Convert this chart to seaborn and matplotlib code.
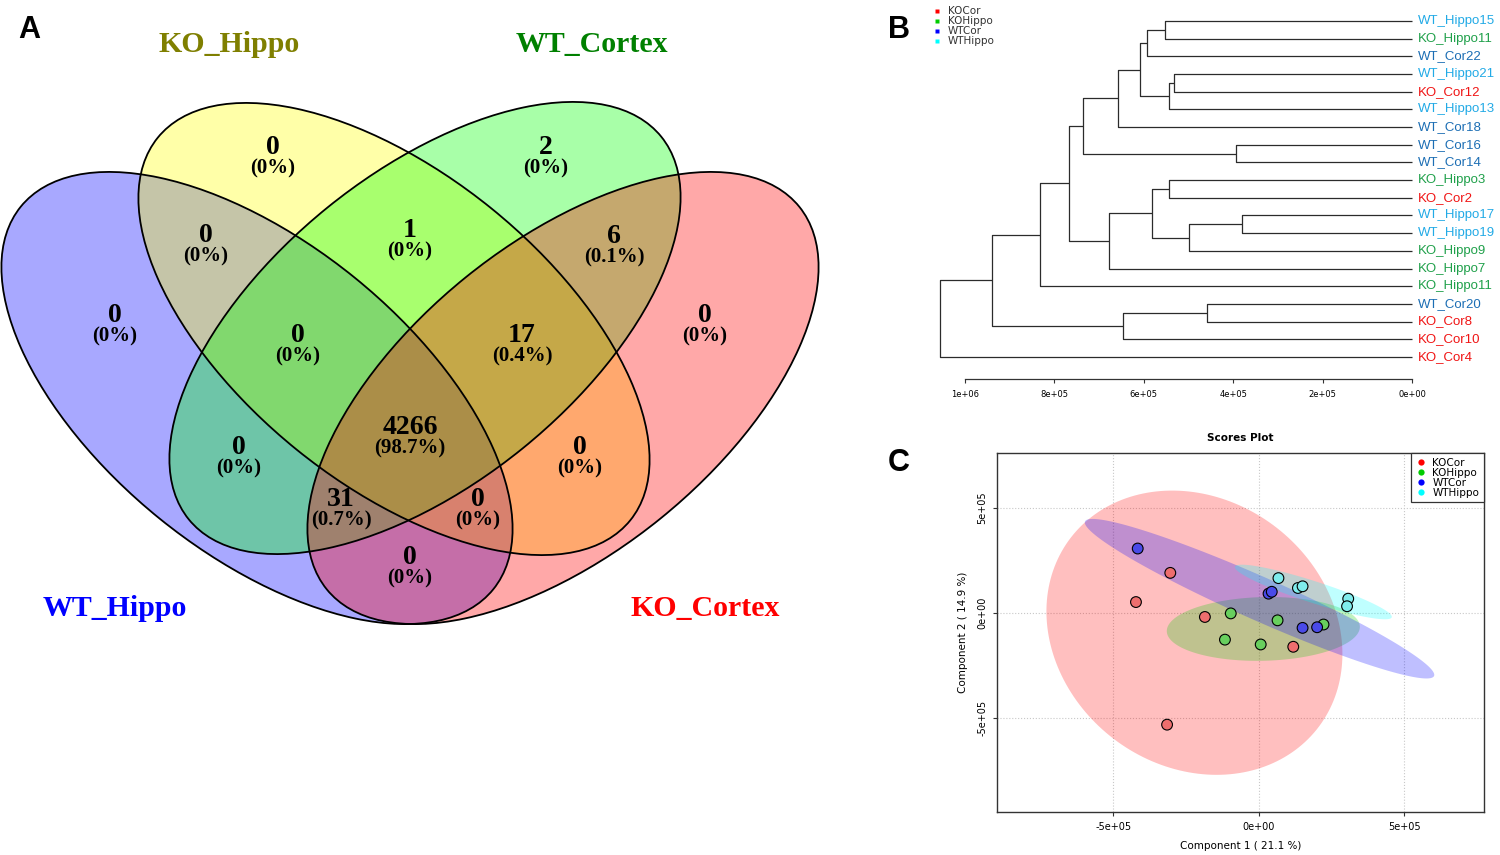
import numpy as np
import pandas as pd
import matplotlib
matplotlib.use("Agg")
import matplotlib.pyplot as plt
from matplotlib.patches import Ellipse
from matplotlib.lines import Line2D
import seaborn as sns

# ---------------- data ----------------
# Panel A : Venn diagram
venn_sets = ["WT_Hippo", "KO_Hippo", "WT_Cortex", "KO_Cortex"]
venn_set_label_colors = ["#0000FF", "#7F7F00", "#008000", "#FF0000"]
venn_fill_colors = ["#0000FF", "#FFFF00", "#00FF00", "#FF0000"]
venn_regions = ["B", "Y", "G", "R", "BY", "YG", "GR", "BYG", "YGR", "BYGR",
                "BG", "YR", "BGR", "BYR", "BR"]
venn_counts = [0, 0, 2, 0, 0, 1, 6, 0, 17, 4266, 0, 0, 31, 0, 0]

# Panel B : dendrogram
dendro_leaves = ["WT_Hippo15", "KO_Hippo11", "WT_Cor22", "WT_Hippo21", "KO_Cor12",
                 "WT_Hippo13", "WT_Cor18", "WT_Cor16", "WT_Cor14", "KO_Hippo3",
                 "KO_Cor2", "WT_Hippo17", "WT_Hippo19", "KO_Hippo9", "KO_Hippo7",
                 "KO_Hippo11", "WT_Cor20", "KO_Cor8", "KO_Cor10", "KO_Cor4"]
dendro_groups = ["WTHippo", "KOHippo", "WTCor", "WTHippo", "KOCor",
                 "WTHippo", "WTCor", "WTCor", "WTCor", "KOHippo",
                 "KOCor", "WTHippo", "WTHippo", "KOHippo", "KOHippo",
                 "KOHippo", "WTCor", "KOCor", "KOCor", "KOCor"]
# negative = leaf (-1 is first leaf), non-negative = earlier merge index
merge_left = [-1, 0, -4, 2, 1, 4, -8, 5, -10, -12, 9, 8, 11, 7, 13, -17, 15, 14, 17]
merge_right = [-2, -3, -5, -6, 3, -7, -9, 6, -11, -13, -14, 10, -15, 12, -16, -18, -19, 16, -20]
merge_height = [5.52e5, 5.92e5, 5.31e5, 5.44e5, 6.08e5, 6.57e5, 3.94e5, 7.36e5,
                5.43e5, 3.81e5, 4.98e5, 5.82e5, 6.78e5, 7.67e5, 8.31e5, 4.58e5,
                6.47e5, 9.40e5, 1.055e6]
dendro_ticks = [1e6, 8e5, 6e5, 4e5, 2e5, 0]
dendro_tick_labels = ["1e+06", "8e+05", "6e+05", "4e+05", "2e+05", "0e+00"]

# Panel C : PCA scores plot
groups = ["KOCor", "KOHippo", "WTCor", "WTHippo"]
score_group = ["KOCor"] * 5 + ["KOHippo"] * 5 + ["WTCor"] * 5 + ["WTHippo"] * 5
score_pc1 = [-3.04e5, -4.22e5, -1.85e5, 1.19e5, -3.15e5,
             -0.96e5, 0.65e5, -1.16e5, 0.07e5, 2.23e5,
             -4.16e5, 0.34e5, 0.45e5, 1.51e5, 2.01e5,
             0.68e5, 1.35e5, 1.51e5, 3.08e5, 3.04e5]
score_pc2 = [1.91e5, 0.52e5, -0.19e5, -1.61e5, -5.32e5,
             -0.02e5, -0.35e5, -1.27e5, -1.50e5, -0.55e5,
             3.07e5, 0.92e5, 1.01e5, -0.71e5, -0.68e5,
             1.66e5, 1.19e5, 1.27e5, 0.68e5, 0.32e5]
ell_cx = [-2.21e5, 0.16e5, 0.03e5, 1.88e5]
ell_cy = [-0.94e5, -0.76e5, 0.68e5, 1.00e5]
ell_hx = [5.09e5, 3.32e5, 6.01e5, 2.70e5]
ell_hy = [6.77e5, 1.52e5, 3.80e5, 1.30e5]
ell_r = [-0.15, 0.066, -0.955, -0.91]
pc_ticks = [-5e5, 0, 5e5]
pc_tick_labels = ["-5e+05", "0e+00", "5e+05"]

# ---------------- style ----------------
sns.set_style("white")
plt.rcParams["font.family"] = ["DejaVu Sans"]
plt.rcParams["text.color"] = "black"
plt.rcParams["axes.labelcolor"] = "black"
plt.rcParams["xtick.color"] = "black"
plt.rcParams["ytick.color"] = "black"
group_colors = {"KOCor": "#FF0000", "KOHippo": "#00CC00", "WTCor": "#0000FF", "WTHippo": "#00FFFF"}
point_colors = {"KOCor": "#EE6E6E", "KOHippo": "#68CF5E", "WTCor": "#4A4AE8", "WTHippo": "#7FECEC"}
leaf_colors = {"KOCor": "#F01414", "KOHippo": "#1FA04A", "WTCor": "#1C6EB4", "WTHippo": "#22AAE6"}

W, H = 1500, 855
fig = plt.figure(figsize=(15, 8.55), dpi=100)

def fx(px):
    return px / W

def fy(py):
    return 1 - py / H

# ---------------- Panel A ----------------
axA = fig.add_axes([0, 0, 830 / W, 1])
axA.set_xlim(0, 830)
axA.set_ylim(855, 0)
axA.axis("off")

ell_geom = [(257, 398, 39), (394, 329, 39), (425, 328, -39), (563, 398, -39)]
for (cx, cy, ang), col in zip(ell_geom, venn_fill_colors):
    axA.add_patch(Ellipse((cx, cy), 608, 310, angle=ang, facecolor=col,
                          alpha=0.34, edgecolor="none", zorder=1))
for (cx, cy, ang) in ell_geom:
    axA.add_patch(Ellipse((cx, cy), 608, 310, angle=ang, facecolor="none",
                          edgecolor="black", lw=1.3, zorder=2))

venn_label_pos = {"B": (115, 315), "Y": (273, 147), "G": (546, 147), "R": (705, 315),
                  "BY": (206, 235), "YG": (410, 230), "GR": (614, 236),
                  "BYG": (298, 335), "YGR": (522, 335), "BYGR": (410, 427),
                  "BG": (239, 447), "YR": (580, 447), "BGR": (341, 499),
                  "BYR": (478, 499), "BR": (410, 557)}
total = sum(venn_counts)
serif = ["Liberation Serif", "DejaVu Serif"]
for reg, cnt in zip(venn_regions, venn_counts):
    x, y = venn_label_pos[reg]
    pct = f"{cnt / total * 100:.1f}"
    if pct.endswith(".0"):
        pct = pct[:-2]
    axA.text(x, y, str(cnt), ha="center", va="center", fontsize=20,
             fontweight="bold", family=serif, color="black", zorder=3)
    axA.text(x, y + 21, f"({pct}%)", ha="center", va="center", fontsize=15,
             fontweight="bold", family=serif, color="black", zorder=3)

set_label_pos = [(115, 608), (229, 45), (592, 45), (705, 608)]
for name, col, (x, y) in zip(venn_sets, venn_set_label_colors, set_label_pos):
    axA.text(x, y, name, ha="center", va="center", fontsize=21.5, fontweight="bold",
             family=serif, color=col)

sans = ["Liberation Sans", "DejaVu Sans"]
fig.text(fx(29), fy(30), "A", ha="center", va="center", fontsize=22, fontweight="bold", family=sans)
fig.text(fx(899), fy(30), "B", ha="center", va="center", fontsize=22, fontweight="bold", family=sans)
fig.text(fx(899), fy(463), "C", ha="center", va="center", fontsize=22, fontweight="bold", family=sans)

# ---------------- Panel B ----------------
leaf_top, leaf_step = 21, 17.68
axB = fig.add_axes([fx(920), fy(379), (1412 - 920) / W, (379 - 10) / H])
axB.set_xlim(1.1e6, 0)
axB.set_ylim((379 - leaf_top) / leaf_step, (10 - leaf_top) / leaf_step)
node_y = []

def node_pos(ref):
    if ref < 0:
        return 0.0, float(-ref - 1)
    return merge_height[ref], node_y[ref]

for k in range(len(merge_height)):
    h1, y1 = node_pos(merge_left[k])
    h2, y2 = node_pos(merge_right[k])
    h = merge_height[k]
    axB.plot([h1, h, h, h2], [y1, y1, y2, y2], color="#2b2b2b", lw=0.9,
             solid_capstyle="butt", clip_on=False)
    node_y.append((y1 + y2) / 2)

for i, (lab, g) in enumerate(zip(dendro_leaves, dendro_groups)):
    axB.annotate(lab, (0, i), xytext=(4, 0), textcoords="offset points",
                 ha="left", va="center", fontsize=9.5, family=sans,
                 color=leaf_colors[g], annotation_clip=False)

for s in ["top", "right", "left"]:
    axB.spines[s].set_visible(False)
axB.spines["bottom"].set_bounds(0, 1e6)
axB.spines["bottom"].set_linewidth(0.9)
axB.spines["bottom"].set_color("#333333")
axB.set_yticks([])
axB.set_xticks(dendro_ticks)
axB.set_xticklabels(dendro_tick_labels, fontsize=6)
axB.tick_params(axis="x", direction="out", length=3, width=0.8, pad=5, bottom=True,
                color="#333333")
axB.patch.set_alpha(0)

legB_handles = [Line2D([], [], marker="s", linestyle="none", markersize=3.2,
                       markerfacecolor=group_colors[g], markeredgecolor="none") for g in groups]
fig.legend(legB_handles, groups, loc="upper left", bbox_to_anchor=(fx(928), fy(1)),
           frameon=False, fontsize=7.5, handlelength=0.8, handletextpad=0.6,
           labelspacing=0.0, borderpad=0, labelcolor="#333333")

# ---------------- Panel C ----------------
axC = fig.add_axes([fx(997), fy(812), 487 / W, 359 / H])
axC.set_xlim(-9.0e5, 7.75e5)
axC.set_ylim(-9.48e5, 7.62e5)
axC.set_axisbelow(True)
axC.grid(True, linestyle=":", color="#C8C8C8", lw=0.8)
axC.set_xticks(pc_ticks)
axC.set_xticklabels(pc_tick_labels, fontsize=7)
axC.set_yticks(pc_ticks)
axC.set_yticklabels(pc_tick_labels, fontsize=7, rotation=90, va="center")
axC.tick_params(direction="out", length=3, width=0.8, bottom=True, left=True, pad=4,
                color="#333333")
for s in axC.spines.values():
    s.set_visible(True)
    s.set_color("#333333")
    s.set_linewidth(1.0)

t = np.linspace(0, 2 * np.pi, 200)
for g, cx, cy, hx, hy, r in zip(groups, ell_cx, ell_cy, ell_hx, ell_hy, ell_r):
    cov = np.array([[hx * hx, r * hx * hy], [r * hx * hy, hy * hy]])
    L = np.linalg.cholesky(cov)
    pts = L @ np.vstack([np.cos(t), np.sin(t)])
    axC.fill(cx + pts[0], cy + pts[1], color=group_colors[g], alpha=0.25, lw=0, zorder=1)

df = pd.DataFrame({"pc1": score_pc1, "pc2": score_pc2, "group": score_group})
sns.scatterplot(data=df, x="pc1", y="pc2", hue="group", palette=point_colors,
                hue_order=groups, s=60, edgecolor="black", linewidth=0.8,
                legend=False, ax=axC, zorder=3)
axC.set_xlabel("Component 1 ( 21.1 %)", fontsize=7.5, labelpad=7)
axC.set_ylabel("Component 2 ( 14.9 %)", fontsize=7.5, labelpad=7)
axC.set_title("Scores Plot", fontsize=7.5, fontweight="bold", pad=9)

legC_handles = [Line2D([], [], marker="o", linestyle="none", markersize=4.5,
                       markerfacecolor=group_colors[g], markeredgecolor="none") for g in groups]
legC = axC.legend(legC_handles, groups, loc="upper right", borderaxespad=0,
                  fontsize=7.5, handlelength=1.0, handletextpad=0.6, labelspacing=0.0,
                  borderpad=0.45, fancybox=False, framealpha=1, edgecolor="#333333")
legC.get_frame().set_linewidth(0.9)

fig.savefig("out.png", dpi=100)
